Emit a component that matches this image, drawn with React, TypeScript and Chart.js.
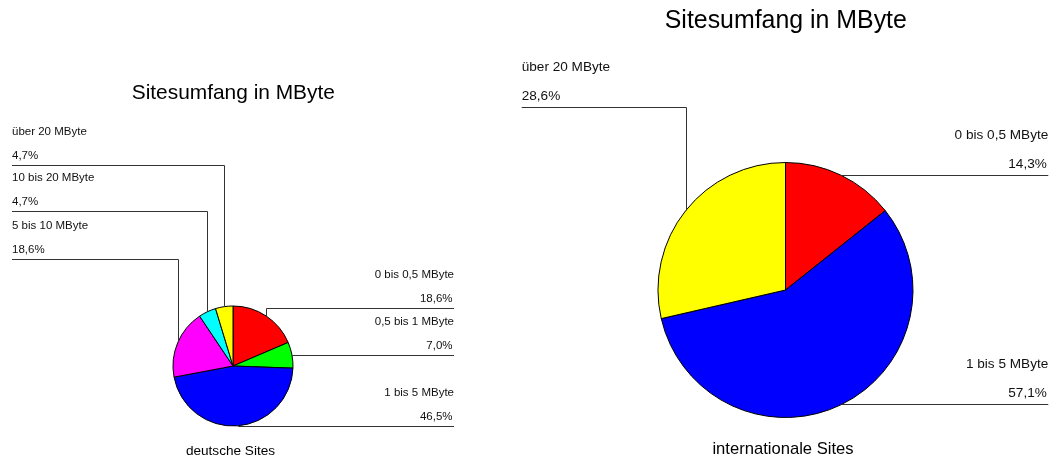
import { useEffect, useRef } from "react";
import { Chart, registerables } from "chart.js";

Chart.register(...registerables);

// ---------- data ----------
const titleText = "Sitesumfang in MByte";

const germanCategories = [
  "0 bis 0,5 MByte",
  "0,5 bis 1 MByte",
  "1 bis 5 MByte",
  "5 bis 10 MByte",
  "10 bis 20 MByte",
  "über 20 MByte",
];
const germanValues = [18.6, 7.0, 46.5, 18.6, 4.7, 4.7];
const germanColors = ["#ff0000", "#00ff00", "#0000ff", "#ff00ff", "#00ffff", "#ffff00"];
const germanCaption = "deutsche Sites";

const intlCategories = ["0 bis 0,5 MByte", "1 bis 5 MByte", "über 20 MByte"];
const intlValues = [14.3, 57.1, 28.6];
const intlColors = ["#ff0000", "#0000ff", "#ffff00"];
const intlCaption = "internationale Sites";

// ---------- layout (positions / sizes) ----------
type Layout = {
  left: number;
  width: number;
  height: number;
  cx: number;
  cy: number;
  r: number;
  titleX: number;
  titleY: number;
  titleSize: number;
  captionX: number;
  captionY: number;
  captionSize: number;
  labelSize: number;
  leftX: number;
  rightX: number;
  lineY: number[];
  nameOffset: number;
  pctOffset: number;
};

const germanLayout: Layout = {
  left: 0,
  width: 500,
  height: 461,
  cx: 233,
  cy: 366,
  r: 60,
  titleX: 233.3,
  titleY: 93.5,
  titleSize: 20.9,
  captionX: 230.5,
  captionY: 451.5,
  captionSize: 13.6,
  labelSize: 11.5,
  leftX: 12,
  rightX: 454,
  lineY: [308, 355, 425.5, 258.5, 211, 165],
  nameOffset: 33.5,
  pctOffset: 9.8,
};

const intlLayout: Layout = {
  left: 500,
  width: 557,
  height: 461,
  cx: 285.5,
  cy: 290,
  r: 127.5,
  titleX: 285.8,
  titleY: 21,
  titleSize: 24.9,
  captionX: 283,
  captionY: 449.5,
  captionSize: 16.6,
  labelSize: 13.6,
  leftX: 21.7,
  rightX: 548.3,
  lineY: [175, 404, 106.5],
  nameOffset: 40,
  pctOffset: 11.6,
};

const FONT = "'Liberation Sans', Arial, Helvetica, sans-serif";

function fmtPct(v: number) {
  return v.toFixed(1).replace(".", ",") + "%";
}

function makeLabelPlugin(layout: Layout, caption: string) {
  return {
    id: "leaderLabels",
    afterDraw(chart: any) {
      const ctx: CanvasRenderingContext2D = chart.ctx;
      const meta = chart.getDatasetMeta(0);
      const labels: string[] = chart.data.labels;
      const values: number[] = chart.data.datasets[0].data;
      ctx.save();
      // title
      ctx.fillStyle = "#000";
      ctx.textBaseline = "middle";
      ctx.textAlign = "center";
      ctx.font = `${layout.titleSize}px ${FONT}`;
      ctx.fillText(titleText, layout.titleX, layout.titleY);
      // caption
      ctx.font = `${layout.captionSize}px ${FONT}`;
      ctx.fillText(caption, layout.captionX, layout.captionY);

      // leader lines and labels
      meta.data.forEach((arc: any, i: number) => {
        const p = arc.getProps(["x", "y", "startAngle", "endAngle", "outerRadius"], true);
        const mid = (p.startAngle + p.endAngle) / 2;
        const ax = p.x + Math.cos(mid) * p.outerRadius;
        const ay = p.y + Math.sin(mid) * p.outerRadius;
        const isLeft = ax < p.x;
        const ly = Math.round(layout.lineY[i]) + 0.5;
        const vx = Math.round(ax) + 0.5;
        const endX = isLeft ? layout.leftX : layout.rightX;

        ctx.strokeStyle = "#333";
        ctx.lineWidth = 1;
        ctx.beginPath();
        ctx.moveTo(vx, ay);
        ctx.lineTo(vx, ly);
        ctx.lineTo(endX, ly);
        ctx.stroke();

        ctx.fillStyle = "#111";
        ctx.font = `${layout.labelSize}px ${FONT}`;
        ctx.textAlign = isLeft ? "left" : "right";
        ctx.textBaseline = "middle";
        ctx.fillText(labels[i], endX, ly - layout.nameOffset);
        ctx.fillText(fmtPct(values[i]), isLeft ? endX : endX - 1.5, ly - layout.pctOffset);
      });
      ctx.restore();
    },
  };
}

function PieChart(props: {
  categories: string[];
  values: number[];
  colors: string[];
  caption: string;
  layout: Layout;
}) {
  const ref = useRef<HTMLCanvasElement | null>(null);
  const { categories, values, colors, caption, layout } = props;

  useEffect(() => {
    if (!ref.current) return;
    const L = layout;
    const chart = new Chart(ref.current, {
      type: "pie",
      data: {
        labels: categories,
        datasets: [
          {
            data: values,
            backgroundColor: colors,
            borderColor: "#000",
            borderWidth: 1,
            hoverOffset: 0,
          },
        ],
      },
      options: {
        responsive: false,
        animation: false,
        radius: L.r,
        layout: {
          padding: {
            left: L.cx - L.r,
            right: L.width - L.cx - L.r,
            top: L.cy - L.r,
            bottom: L.height - L.cy - L.r,
          },
        },
        plugins: {
          legend: { display: false },
          tooltip: { enabled: false },
          title: { display: false },
        },
        events: [],
      } as any,
      plugins: [makeLabelPlugin(L, caption)],
    });
    return () => chart.destroy();
  }, [categories, values, colors, caption, layout]);

  return (
    <canvas
      ref={ref}
      width={layout.width}
      height={layout.height}
      style={{
        position: "absolute",
        left: layout.left,
        top: 0,
        width: layout.width,
        height: layout.height,
      }}
    />
  );
}

export default function App() {
  return (
    <div
      style={{
        position: "absolute",
        left: 0,
        top: 0,
        width: 1057,
        height: 461,
        background: "#fff",
        overflow: "hidden",
      }}
    >
      <PieChart
        categories={germanCategories}
        values={germanValues}
        colors={germanColors}
        caption={germanCaption}
        layout={germanLayout}
      />
      <PieChart
        categories={intlCategories}
        values={intlValues}
        colors={intlColors}
        caption={intlCaption}
        layout={intlLayout}
      />
    </div>
  );
}
